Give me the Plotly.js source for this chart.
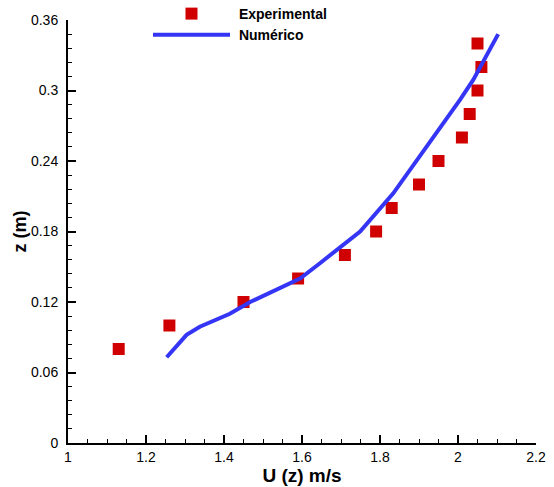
<!DOCTYPE html>
<html>
<head>
<meta charset="utf-8">
<script src="https://cdn.plot.ly/plotly-3.0.1.min.js"></script>
<style>html,body{margin:0;padding:0;background:#fff}#chart{width:554px;height:487px}</style>
</head>
<body>
<div id="chart"></div>
<script>
// Experimental data
const expU = [1.13, 1.26, 1.45, 1.59, 1.71, 1.79, 1.83, 1.90, 1.95, 2.01, 2.03, 2.05, 2.06, 2.05];
const expZ = [0.08, 0.10, 0.12, 0.14, 0.16, 0.18, 0.20, 0.22, 0.24, 0.26, 0.28, 0.30, 0.32, 0.34];
// Numerical profile
const numU = [1.253, 1.287, 1.304, 1.338, 1.381, 1.415, 1.467, 1.552, 1.595, 1.646, 1.697, 1.749, 1.834, 1.920, 2.005, 2.039, 2.103];
const numZ = [0.073, 0.086, 0.092, 0.099, 0.105, 0.110, 0.120, 0.133, 0.140, 0.153, 0.166, 0.180, 0.2125, 0.252, 0.292, 0.309, 0.348];
const xTicks = [1, 1.2, 1.4, 1.6, 1.8, 2, 2.2];
const yTicks = [0, 0.06, 0.12, 0.18, 0.24, 0.3, 0.36];

const font = "Liberation Sans, Arial, sans-serif";
const traces = [
  {x: expU, y: expZ, type: 'scatter', mode: 'markers', name: '\u00a0Experimental',
   marker: {symbol: 'square', size: 12, color: '#d10000'}},
  {x: numU, y: numZ, type: 'scatter', mode: 'lines', name: '\u00a0Numérico',
   line: {color: '#3535f5', width: 4}}
];
const axisCommon = {
  showgrid: false, zeroline: false, showline: true, linecolor: '#000', linewidth: 2,
  ticks: 'inside', ticklen: 8, tickwidth: 2, tickcolor: '#000', mirror: false,
  tickfont: {family: font, size: 14, color: '#000'}
};
const layout = {
  width: 554, height: 487,
  margin: {l: 68, r: 18, t: 20, b: 44, autoexpand: false},
  paper_bgcolor: '#fff', plot_bgcolor: '#fff',
  showlegend: true,
  legend: {x: (148 - 68) / 468, y: 1.052, xanchor: 'left', yanchor: 'top', bgcolor: 'rgba(0,0,0,0)',
           font: {family: font, size: 14, color: '#000', weight: 'bold'}, itemwidth: 77, tracegroupgap: 0},
  xaxis: Object.assign({}, axisCommon, {
    range: [1, 2.2], tickvals: xTicks, ticktext: xTicks.map(String),
    minor: {dtick: 0.05, tick0: 1, ticks: 'inside', ticklen: 4, tickwidth: 1, tickcolor: '#000'},
    title: {text: '<b>U (z) m/s</b>', font: {family: font, size: 19, color: '#000'}, standoff: 0}
  }),
  yaxis: Object.assign({}, axisCommon, {
    range: [0, 0.36], tickvals: yTicks, ticktext: yTicks.map(String), ticklabelstandoff: 5,
    minor: {dtick: 0.012, tick0: 0, ticks: 'inside', ticklen: 4, tickwidth: 1, tickcolor: '#000'},
    title: {text: '<b>z (m)</b>', font: {family: font, size: 18, color: '#000'}, standoff: 0}
  })
};
Plotly.newPlot('chart', traces, layout, {displayModeBar: false, staticPlot: true});
</script>
</body>
</html>
